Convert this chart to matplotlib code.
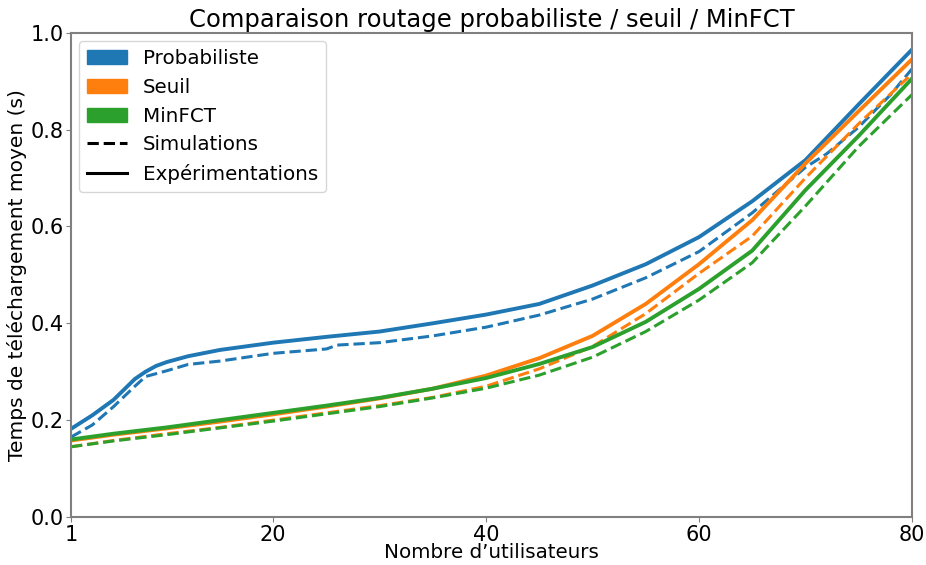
import matplotlib
matplotlib.use('Agg')
import matplotlib.pyplot as plt
from matplotlib.patches import Patch
from matplotlib.lines import Line2D

# Probabiliste
x_proba_exp = [1, 3, 5, 7, 8, 9, 10, 12, 15, 20, 25, 30, 35, 40, 45, 50, 55, 60, 65, 70, 75, 80]
y_proba_exp = [0.182, 0.21, 0.242, 0.285, 0.30, 0.312, 0.32, 0.332, 0.345, 0.36, 0.372, 0.383,
               0.40, 0.418, 0.44, 0.478, 0.522, 0.578, 0.652, 0.737, 0.852, 0.965]
x_proba_sim = [1, 3, 5, 7, 8, 10, 12, 15, 20, 25, 26, 30, 35, 40, 45, 50, 55, 60, 65, 70, 72, 75, 77, 78, 80]
y_proba_sim = [0.165, 0.19, 0.228, 0.27, 0.29, 0.302, 0.315, 0.322, 0.338, 0.347, 0.355, 0.36,
               0.374, 0.392, 0.417, 0.45, 0.494, 0.548, 0.628, 0.722, 0.75, 0.805, 0.85, 0.872, 0.925]

# Seuil et MinFCT
x_pts = [1, 5, 10, 15, 20, 25, 30, 35, 40, 45, 50, 55, 60, 65, 70, 75, 80]
y_seuil_exp = [0.158, 0.17, 0.183, 0.197, 0.212, 0.228, 0.245, 0.265, 0.292, 0.328, 0.374,
               0.44, 0.522, 0.613, 0.73, 0.838, 0.945]
y_seuil_sim = [0.145, 0.158, 0.172, 0.185, 0.20, 0.215, 0.23, 0.247, 0.27, 0.306, 0.352,
               0.42, 0.503, 0.58, 0.70, 0.812, 0.915]
y_minfct_exp = [0.16, 0.172, 0.185, 0.20, 0.215, 0.23, 0.246, 0.265, 0.287, 0.316, 0.351,
                0.403, 0.471, 0.55, 0.675, 0.787, 0.905]
y_minfct_sim = [0.145, 0.157, 0.17, 0.184, 0.198, 0.213, 0.228, 0.246, 0.266, 0.293, 0.33,
                0.383, 0.448, 0.525, 0.642, 0.765, 0.872]

c_proba = '#1f77b4'
c_seuil = '#ff7f0e'
c_minfct = '#2ca02c'

fig = plt.figure(figsize=(9.26, 5.65), dpi=100)
ax = fig.add_axes([0.0767, 0.085, 0.908, 0.857])

lw = 2.8
ax.plot(x_proba_exp, y_proba_exp, color=c_proba, lw=lw)
ax.plot(x_proba_sim, y_proba_sim, color=c_proba, lw=2.2, ls='--')
ax.plot(x_pts, y_seuil_exp, color=c_seuil, lw=lw)
ax.plot(x_pts, y_seuil_sim, color=c_seuil, lw=2.2, ls='--')
ax.plot(x_pts, y_minfct_exp, color=c_minfct, lw=lw)
ax.plot(x_pts, y_minfct_sim, color=c_minfct, lw=2.2, ls='--')

ax.set_xlim(1, 80)
ax.set_ylim(0, 1)
ax.set_xticks([1, 20, 40, 60, 80])
ax.set_yticks([0.0, 0.2, 0.4, 0.6, 0.8, 1.0])
ax.tick_params(labelsize=15, color='#808080', pad=2)
for s in ax.spines.values():
    s.set_color('#808080')
    s.set_linewidth(1.5)

ax.set_xlabel('Nombre d\u2019utilisateurs', fontsize=14.3, labelpad=-1)
ax.set_ylabel('Temps de téléchargement moyen (s)', fontsize=14.5, labelpad=2)
ax.set_title('Comparaison routage probabiliste / seuil / MinFCT', fontsize=17.5, pad=4)

handles = [Patch(color=c_proba, label='Probabiliste'),
           Patch(color=c_seuil, label='Seuil'),
           Patch(color=c_minfct, label='MinFCT'),
           Line2D([], [], color='black', ls='--', lw=2.2, label='Simulations'),
           Line2D([], [], color='black', lw=2.2, label='Expérimentations')]
ax.legend(handles=handles, loc='upper left', fontsize=14.3, borderaxespad=0.4)

fig.savefig('out.png', dpi=100)
